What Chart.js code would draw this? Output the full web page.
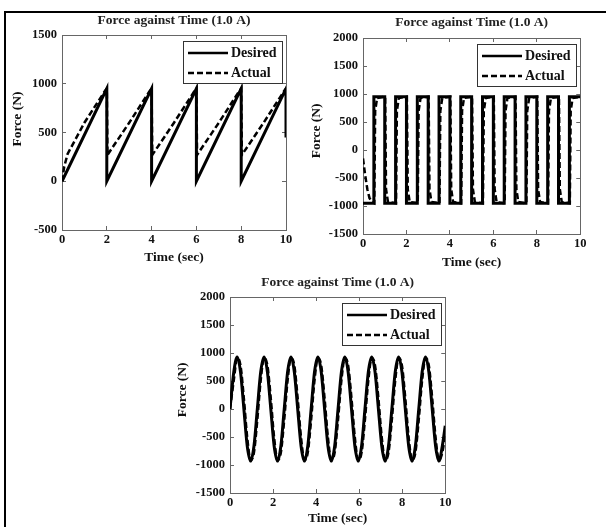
<!DOCTYPE html>
<html>
<head>
<meta charset="utf-8">
<script src="https://cdn.jsdelivr.net/npm/chart.js@4/dist/chart.umd.min.js"></script>
<style>
  html, body { margin: 0; padding: 0; background: #fff; }
  body { width: 606px; height: 527px; position: relative; overflow: hidden; }
  canvas { position: absolute; }
  #frame { position: absolute; left: 4px; top: 11px; width: 610px; height: 530px;
           border-top: 2px solid #000; border-left: 2px solid #000; }
</style>
</head>
<body>
<div id="frame"></div>
<canvas id="c1" width="300" height="266" style="left:0px;top:0px"></canvas>
<canvas id="c2" width="290" height="271" style="left:303px;top:0px"></canvas>
<canvas id="c3" width="290" height="263" style="left:168px;top:264px"></canvas>
<script>
// ---------- data ----------
const titleText = 'Force against Time (1.0 A)';
const xTitle = 'Time (sec)';
const yTitle = 'Force (N)';
const seriesNames = ['Desired', 'Actual'];
const xTicks = [0, 2, 4, 6, 8, 10];
const yTicksSaw = [-500, 0, 500, 1000, 1500];
const yTicksWave = [-1500, -1000, -500, 0, 500, 1000, 1500, 2000];

// Plot 1: sawtooth
const sawTime    = [0, 2, 2, 4, 4, 6, 6, 8, 8, 10, 10];
const sawDesired = [0, 950, 0, 950, 0, 950, 0, 950, 0, 950, 450];
const sawActualTime = [0, 0.1, 0.25, 1.0, 1.9, 2.0, 2.03, 3.0, 3.9, 4.0, 4.03, 5.0, 5.9, 6.0, 6.03, 7.0, 7.9, 8.0, 8.03, 9.0, 9.9, 10];
const sawActual     = [0, 150, 280, 600, 920, 950, 270, 600, 920, 950, 270, 600, 920, 950, 270, 600, 920, 950, 270, 600, 920, 950];

// Plot 2: square wave
const sqTime    = [0, 0.5, 0.5, 1, 1, 1.5, 1.5, 2, 2, 2.5, 2.5, 3, 3, 3.5, 3.5, 4, 4, 4.5, 4.5, 5,
                   5, 5.5, 5.5, 6, 6, 6.5, 6.5, 7, 7, 7.5, 7.5, 8, 8, 8.5, 8.5, 9, 9, 9.5, 9.5, 10];
const sqDesired = [-950, -950, 950, 950, -950, -950, 950, 950, -950, -950, 950, 950, -950, -950, 950, 950, -950, -950, 950, 950,
                   -950, -950, 950, 950, -950, -950, 950, 950, -950, -950, 950, 950, -950, -950, 950, 950, -950, -950, 950, 950];
const sqActualTime = [0, 0.1, 0.2, 0.3, 0.42,
  0.52, 0.56, 0.65, 1.02, 1.06, 1.15, 1.52, 1.56, 1.65, 2.02, 2.06, 2.15,
  2.52, 2.56, 2.65, 3.02, 3.06, 3.15, 3.52, 3.56, 3.65, 4.02, 4.06, 4.15,
  4.52, 4.56, 4.65, 5.02, 5.06, 5.15, 5.52, 5.56, 5.65, 6.02, 6.06, 6.15,
  6.52, 6.56, 6.65, 7.02, 7.06, 7.15, 7.52, 7.56, 7.65, 8.02, 8.06, 8.15,
  8.52, 8.56, 8.65, 9.02, 9.06, 9.15, 9.52, 9.56, 9.65, 10];
const sqActual = [-150, -450, -700, -860, -930,
  -950, 700, 930, 950, -700, -930, -950, 700, 930, 950, -700, -930,
  -950, 700, 930, 950, -700, -930, -950, 700, 930, 950, -700, -930,
  -950, 700, 930, 950, -700, -930, -950, 700, 930, 950, -700, -930,
  -950, 700, 930, 950, -700, -930, -950, 700, 930, 950, -700, -930,
  -950, 700, 930, 950, -700, -930, -950, 700, 930, 950];

// Plot 3: sine wave
const sineTime = [0, 0.176, 0.333, 0.489, 0.645, 0.801, 0.958, 1.114, 1.27, 1.426, 1.583, 1.739, 1.895, 2.051, 2.208, 2.364,
  2.52, 2.676, 2.833, 2.989, 3.145, 3.301, 3.458, 3.614, 3.77, 3.926, 4.083, 4.239, 4.395, 4.551, 4.708, 4.864,
  5.02, 5.176, 5.333, 5.489, 5.645, 5.801, 5.958, 6.114, 6.27, 6.426, 6.583, 6.739, 6.895, 7.051, 7.208, 7.364,
  7.52, 7.676, 7.833, 7.989, 8.145, 8.301, 8.458, 8.614, 8.77, 8.926, 9.083, 9.239, 9.395, 9.551, 9.708, 9.864, 10];
const sineDesired = [0, 660, 930, 660, 0, -660, -930, -660, 0, 660, 930, 660, 0, -660, -930, -660,
  0, 660, 930, 660, 0, -660, -930, -660, 0, 660, 930, 660, 0, -660, -930, -660,
  0, 660, 930, 660, 0, -660, -930, -660, 0, 660, 930, 660, 0, -660, -930, -660,
  0, 660, 930, 660, 0, -660, -930, -660, 0, 660, 930, 660, 0, -660, -930, -660, -300];
const sineActual = [0, 513, 911, 775, 186, -513, -911, -775, -186, 513, 911, 775, 186, -513, -911, -775,
  -186, 513, 911, 775, 186, -513, -911, -775, -186, 513, 911, 775, 186, -513, -911, -775,
  -186, 513, 911, 775, 186, -513, -911, -775, -186, 513, 911, 775, 186, -513, -911, -775,
  -186, 513, 911, 775, 186, -513, -911, -775, -186, 513, 911, 775, 186, -513, -911, -775, -450];

// ---------- drawing ----------
const FONT = '"Liberation Serif", "Times New Roman", Times, serif';
Chart.defaults.font.family = FONT;
Chart.defaults.color = '#111';

const boxLegend = {
  id: 'boxLegend',
  afterDatasetsDraw(chart) {
    const { ctx, chartArea } = chart;
    ctx.save();
    ctx.font = 'bold 14px ' + FONT;
    const ds = chart.data.datasets;
    const tw = Math.max(...ds.map(d => ctx.measureText(d.label).width));
    const lineLen = 40, padL = 5, gap = 3, padR = 5, h = 42;
    const w = Math.round(padL + lineLen + gap + tw + padR);
    const left = Math.round(chartArea.right - 4 - w);
    const top = Math.round(chartArea.top + 6);
    ctx.fillStyle = '#fff';
    ctx.fillRect(left, top, w, h);
    ctx.strokeStyle = '#333';
    ctx.lineWidth = 1;
    ctx.strokeRect(left + 0.5, top + 0.5, w, h);
    ds.forEach((d, i) => {
      const y = top + 12 + i * 20;
      ctx.beginPath();
      ctx.setLineDash(d.borderDash || []);
      ctx.lineWidth = 2.5;
      ctx.strokeStyle = '#000';
      ctx.moveTo(left + padL, y);
      ctx.lineTo(left + padL + lineLen, y);
      ctx.stroke();
      ctx.setLineDash([]);
      ctx.fillStyle = '#111';
      ctx.textBaseline = 'middle';
      ctx.textAlign = 'left';
      ctx.fillText(d.label, left + padL + lineLen + gap, y);
    });
    ctx.restore();
  }
};

function pts(t, v) { return t.map((x, i) => ({ x: x, y: v[i] })); }
const plain = v => String(v);

function makeChart(id, o) {
  const gridOpts = { display: true, drawOnChartArea: false, drawTicks: true, tickLength: -4, color: '#666', lineWidth: 1 };
  const borderOpts = { display: true, color: '#666', width: 1 };
  const tickFont = { size: 12.5, weight: 'bold' };
  new Chart(document.getElementById(id), {
    type: 'line',
    data: {
      datasets: [
        { label: seriesNames[0], data: pts(o.t1, o.v1), borderColor: '#000', borderWidth: 3,
          pointRadius: 0, fill: false, tension: 0, cubicInterpolationMode: o.smooth ? 'monotone' : 'default' },
        { label: seriesNames[1], data: pts(o.t2, o.v2), borderColor: '#000', borderWidth: 2.5, borderDash: [6, 3],
          pointRadius: 0, fill: false, tension: 0, cubicInterpolationMode: o.smooth ? 'monotone' : 'default' }
      ]
    },
    options: {
      responsive: false, animation: false, devicePixelRatio: 1,
      layout: { padding: { left: 0, top: 0, right: o.padRight, bottom: 0 } },
      plugins: {
        legend: { display: false },
        tooltip: { enabled: false },
        title: { display: true, text: titleText, fullSize: false, color: '#222',
                 font: { size: 13.5, weight: 'bold' }, padding: { top: o.titleTop, bottom: o.titleBottom } }
      },
      scales: {
        x: {
          type: 'linear', position: 'bottom', min: 0, max: 10,
          afterBuildTicks: s => { s.ticks = xTicks.map(v => ({ value: v })); },
          afterFit: s => { s.height = o.xHeight; },
          ticks: { font: tickFont, padding: 6.5, color: '#111', maxRotation: 0, callback: plain },
          grid: gridOpts, border: borderOpts,
          title: { display: true, text: xTitle, color: '#111', font: { size: 13.5, weight: 'bold' }, padding: { top: 0, bottom: 0 } }
        },
        x2: {
          type: 'linear', position: 'top', min: 0, max: 10,
          afterBuildTicks: s => { s.ticks = xTicks.map(v => ({ value: v })); },
          afterFit: s => { s.height = 0; },
          ticks: { display: false }, grid: gridOpts, border: borderOpts
        },
        y: {
          type: 'linear', position: 'left', min: o.yTicks[0], max: o.yTicks[o.yTicks.length - 1],
          afterBuildTicks: s => { s.ticks = o.yTicks.map(v => ({ value: v })); },
          afterFit: s => { s.width = o.yWidth; },
          ticks: { font: tickFont, padding: 9, color: '#111', callback: plain },
          grid: gridOpts, border: borderOpts,
          title: { display: true, text: ' '.repeat(o.yShift) + yTitle, color: '#111', font: { size: 13.5, weight: 'bold' }, padding: { top: o.yTitlePad, bottom: 0 } }
        },
        y2: {
          type: 'linear', position: 'right', min: o.yTicks[0], max: o.yTicks[o.yTicks.length - 1],
          afterBuildTicks: s => { s.ticks = o.yTicks.map(v => ({ value: v })); },
          afterFit: s => { s.width = 0; },
          ticks: { display: false }, grid: gridOpts, border: borderOpts
        }
      }
    },
    plugins: [boxLegend]
  });
}

makeChart('c1', { t1: sawTime, v1: sawDesired, t2: sawActualTime, v2: sawActual, yTicks: yTicksSaw, smooth: false,
  padRight: 14, titleTop: 12, titleBottom: 6.8, xHeight: 36, yWidth: 62, yTitlePad: 9, yShift: 8 });
makeChart('c2', { t1: sqTime, v1: sqDesired, t2: sqActualTime, v2: sqActual, yTicks: yTicksWave, smooth: false,
  padRight: 11, titleTop: 14.9, titleBottom: 6.9, xHeight: 37, yWidth: 60, yTitlePad: 5, yShift: 3 });
makeChart('c3', { t1: sineTime, v1: sineDesired, t2: sineTime, v2: sineActual, yTicks: yTicksWave, smooth: true,
  padRight: 9, titleTop: 10.9, titleBottom: 5.9, xHeight: 34, yWidth: 62, yTitlePad: 6, yShift: 3 });
</script>
</body>
</html>
